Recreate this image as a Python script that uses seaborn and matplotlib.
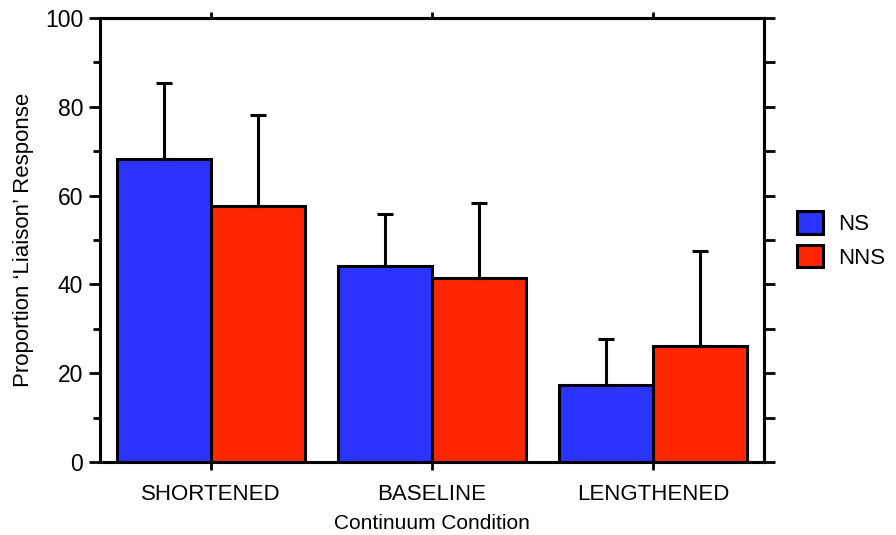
import matplotlib
matplotlib.use('Agg')
import matplotlib.pyplot as plt
import seaborn as sns
import pandas as pd
import numpy as np

# values
conditions = ['SHORTENED', 'BASELINE', 'LENGTHENED']
groups = ['NS', 'NNS']
ns_means = [68.2, 44.1, 17.3]
nns_means = [57.7, 41.4, 26.1]
ns_err = [17.2, 11.8, 10.4]
nns_err = [20.5, 16.9, 21.4]
y_ticks = [0, 20, 40, 60, 80, 100]

colors = {'NS': '#2B33FF', 'NNS': '#FF2600'}

sns.set_style("ticks", {'axes.edgecolor': 'black', 'text.color': 'black',
                        'axes.labelcolor': 'black', 'xtick.color': 'black',
                        'ytick.color': 'black'})
plt.rcParams['font.family'] = ['Liberation Sans', 'DejaVu Sans']

df = pd.DataFrame({
    'condition': conditions * 2,
    'group': ['NS'] * 3 + ['NNS'] * 3,
    'value': ns_means + nns_means,
})
errs = {'NS': ns_err, 'NNS': nns_err}

fig = plt.figure(figsize=(8.96, 5.35), dpi=100)
ax = fig.add_axes([0.1116, 0.1364, 0.7411, 0.83])

sns.barplot(data=df, x='condition', y='value', hue='group', order=conditions,
            hue_order=groups, palette=colors, width=0.85, errorbar=None,
            edgecolor='black', linewidth=2.2, saturation=1, ax=ax)

# upward-only error bars at bar centres
for cont, g in zip(ax.containers, groups):
    xs = [p.get_x() + p.get_width() / 2 for p in cont.patches]
    hs = [p.get_height() for p in cont.patches]
    ax.errorbar(xs, hs, yerr=[np.zeros(len(hs)), errs[g]], fmt='none',
                ecolor='black', elinewidth=2.2, capsize=5.5, capthick=2.2, zorder=1)

ax.set_xlim(-0.5, 2.5)
ax.set_ylim(0, 100)
ax.set_yticks(y_ticks)
ax.set_yticks(np.arange(10, 100, 20), minor=True)
ax.tick_params(axis='y', which='major', length=8, width=2, labelsize=16.5, pad=4)
ax.tick_params(axis='y', which='minor', length=5, width=2)
ax.tick_params(axis='x', length=6, width=2, labelsize=16, pad=10)

for s in ax.spines.values():
    s.set_visible(True)
    s.set_linewidth(2.2)

# ticks on right and top
sec_y = ax.secondary_yaxis('right')
sec_y.set_yticks(np.arange(0, 101, 10))
sec_y.tick_params(length=8, width=2, labelright=False)
sec_y.spines['right'].set_linewidth(2.2)
sec_x = ax.secondary_xaxis('top')
sec_x.set_xticks([0, 1, 2])
sec_x.tick_params(length=4, width=2, labeltop=False)
sec_x.spines['top'].set_linewidth(2.2)

ax.set_xlabel('Continuum Condition', fontsize=15, labelpad=6)
ax.set_ylabel("Proportion \u2018Liaison\u2019 Response", fontsize=16, labelpad=8)

leg = ax.legend(loc='center left', bbox_to_anchor=(1.05, 0.5), frameon=False,
                fontsize=16, handlelength=1.15, handleheight=1.15, borderaxespad=0,
                borderpad=0, handletextpad=0.7, labelspacing=0.45)
for h in leg.legend_handles:
    h.set_edgecolor('black')
    h.set_linewidth(2.2)

fig.savefig('out.png', dpi=100, facecolor='white')
